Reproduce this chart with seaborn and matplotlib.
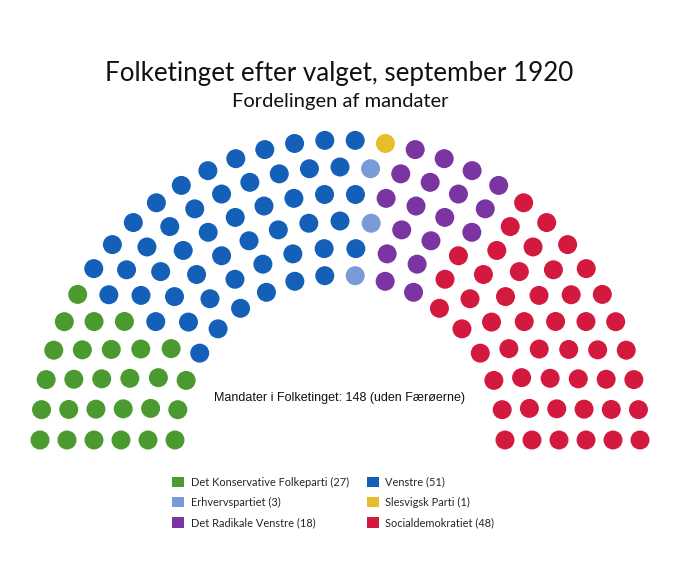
import numpy as np
import pandas as pd
import matplotlib.pyplot as plt
import seaborn as sns
from matplotlib.patches import Patch

# Party data (order = seating order from left to right)
parties = ["Det Konservative Folkeparti", "Venstre", "Erhvervspartiet",
           "Slesvigsk Parti", "Det Radikale Venstre", "Socialdemokratiet"]
seats = [27, 51, 3, 1, 18, 48]
colors = ["#4a9a30", "#1460b8", "#7b9ad8", "#e8bd2a", "#7a35a3", "#d4193f"]

# Hemicycle geometry (pixel units)
n_rows = 6
cx, cy = 340, 440
r_inner, r_step = 165, 27
total = sum(seats)

radii = [r_inner + i * r_step for i in range(n_rows)]
raw = np.array(radii) / sum(radii) * total
per_row = np.floor(raw).astype(int)
while per_row.sum() < total:
    per_row[np.argmax(raw - per_row)] += 1

pos = []
for r, n in zip(radii, per_row):
    for k in range(n):
        a = np.pi - np.pi * k / (n - 1)
        pos.append((a, r))
pos.sort(key=lambda p: -p[0])

party_col = np.repeat(parties, seats)
df = pd.DataFrame({
    "x": [cx + r * np.cos(a) for a, r in pos],
    "y": [cy - r * np.sin(a) for a, r in pos],
    "party": party_col,
})

sns.set_style("white")
plt.rcParams["font.family"] = ["Lato", "DejaVu Sans"]

fig = plt.figure(figsize=(6.8, 5.83), dpi=100)
ax = fig.add_axes([0, 0, 1, 1])
sns.scatterplot(data=df, x="x", y="y", hue="party", palette=dict(zip(parties, colors)),
                s=187, linewidth=0, legend=False, ax=ax)
ax.set_xlim(0, 680)
ax.set_ylim(583, 0)
ax.axis("off")

ax.text(339, 74, "Folketinget efter valget, september 1920", ha="center", va="center",
        fontsize=18.7, color="#111111")
ax.text(340, 102, "Fordelingen af mandater", ha="center", va="center",
        fontsize=14.5, color="#111111")
ax.text(340, 398, "Mandater i Folketinget: 148 (uden Færøerne)", ha="center", va="center",
        fontsize=9, family="Liberation Sans", color="#111111")

col = dict(zip(parties, colors))
seat_of = dict(zip(parties, seats))
handles = [Patch(facecolor=col[p], edgecolor="none") for p in parties]
labels = [f"{p} ({seat_of[p]})" for p in parties]
# matplotlib fills legend columns top-to-bottom, so reorder to fill row by row
order = [0, 2, 4, 1, 3, 5]
ax.legend([handles[i] for i in order], [labels[i] for i in order], ncol=2,
          loc="upper left", bbox_to_anchor=(172 / 680, 1 - 476.5 / 583),
          frameon=False, fontsize=7.9, handlelength=1.1, handleheight=1.1,
          handletextpad=0.6, columnspacing=1.63, labelspacing=0.85,
          borderpad=0, borderaxespad=0)

fig.savefig("out.png", dpi=100)
